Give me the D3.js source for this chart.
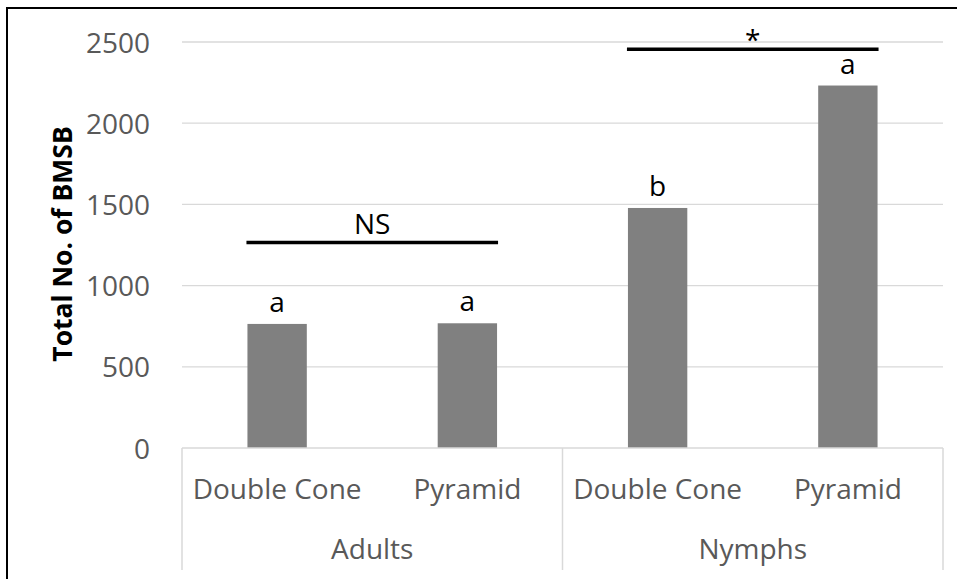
<!DOCTYPE html>
<html>
<head>
<meta charset="utf-8">
<script src="https://cdn.jsdelivr.net/npm/d3@7"></script>
<style>
  body { margin: 0; background: #fff; }
  svg { display: block; }
  text { font-family: "Open Sans", "Noto Sans", sans-serif; }
</style>
</head>
<body>
<svg id="chart" width="957" height="579"></svg>
<script>
// Total BMSB captured per life stage and trap type
const stages = ["Adults", "Nymphs"];
const traps = ["Double Cone", "Pyramid"];
const totals = [764, 768, 1478, 2232];          // Adults DC, Adults Pyr, Nymphs DC, Nymphs Pyr
const letters = ["a", "a", "b", "a"];          // mean separation letters
const yTicks = [0, 500, 1000, 1500, 2000, 2500];
const bracketLabels = ["NS", "*"];             // per-stage significance
const bracketLevels = [1265, 2455];            // bracket height in count units

const rows = [];
stages.forEach((s, i) => traps.forEach((t, j) => {
  const k = i * traps.length + j;
  rows.push({ key: s + "|" + t, stage: s, trap: t, value: totals[k], letter: letters[k] });
}));

const svg = d3.select("#chart");
const plotL = 182, plotR = 943, plotT = 42, plotB = 448;
const fs = 28;

const x = d3.scaleBand().domain(rows.map(d => d.key)).range([plotL, plotR])
  .paddingInner(0.688).paddingOuter(0.344);
const xStage = d3.scaleBand().domain(stages).range([plotL, plotR]);
const y = d3.scaleLinear().domain([0, 2500]).range([plotB, plotT]);

// outer frame
svg.append("rect").attr("x", 7).attr("y", 8).attr("width", 980).attr("height", 600)
  .attr("fill", "none").attr("stroke", "#000").attr("stroke-width", 2);

// horizontal gridlines
svg.append("g").selectAll("line").data(yTicks.filter(v => v > 0)).join("line")
  .attr("x1", plotL).attr("x2", plotR)
  .attr("y1", d => y(d)).attr("y2", d => y(d))
  .attr("stroke", "#d9d9d9").attr("stroke-width", 1.3);

// value axis labels
const yAxis = svg.append("g").attr("transform", `translate(${plotL},0)`)
  .call(d3.axisLeft(y).tickValues(yTicks).tickFormat(d3.format("d"))
    .tickSize(0).tickPadding(32));
yAxis.select(".domain").remove();
yAxis.selectAll("text").attr("font-family", "'Open Sans', sans-serif")
  .attr("font-size", fs).attr("fill", "#595959").attr("dy", "0.36em");

// bars
svg.append("g").selectAll("rect").data(rows).join("rect")
  .attr("x", d => x(d.key)).attr("width", x.bandwidth())
  .attr("y", d => y(d.value)).attr("height", d => y(0) - y(d.value))
  .attr("fill", "#808080");

// category axis: baseline and group separators
svg.append("line").attr("x1", plotL).attr("x2", plotR)
  .attr("y1", plotB).attr("y2", plotB).attr("stroke", "#d9d9d9").attr("stroke-width", 1.5);
const seps = stages.map(s => xStage(s)).concat([plotR]);
svg.append("g").selectAll("line").data(seps).join("line")
  .attr("x1", d => d).attr("x2", d => d).attr("y1", plotB).attr("y2", 570)
  .attr("stroke", "#d9d9d9").attr("stroke-width", 1.5);

// trap labels
svg.append("g").selectAll("text").data(rows).join("text")
  .attr("x", d => x(d.key) + x.bandwidth() / 2).attr("y", 499)
  .attr("text-anchor", "middle").attr("font-size", fs).attr("fill", "#595959")
  .text(d => d.trap);

// stage labels
svg.append("g").selectAll("text").data(stages).join("text")
  .attr("x", d => xStage(d) + xStage.bandwidth() / 2).attr("y", 559)
  .attr("text-anchor", "middle").attr("font-size", fs).attr("fill", "#595959")
  .text(d => d);

// letters above bars
svg.append("g").selectAll("text").data(rows).join("text")
  .attr("x", d => x(d.key) + x.bandwidth() / 2).attr("y", d => y(d.value) - 12)
  .attr("text-anchor", "middle").attr("font-size", fs).attr("fill", "#000")
  .text(d => d.letter);

// significance brackets spanning each stage's bars
stages.forEach((s, i) => {
  const ks = rows.filter(d => d.stage === s).map(d => d.key);
  const x1 = x(ks[0]) - 1, x2 = x(ks[ks.length - 1]) + x.bandwidth() + 1;
  const ly = y(bracketLevels[i]);
  svg.append("line").attr("x1", x1).attr("x2", x2).attr("y1", ly).attr("y2", ly)
    .attr("stroke", "#000").attr("stroke-width", 3.5);
  const lbl = bracketLabels[i];
  svg.append("text").attr("x", (x1 + x2) / 2)
    .attr("y", lbl === "*" ? ly + 1 : ly - 9)
    .attr("text-anchor", "middle").attr("font-size", fs).attr("fill", "#000")
    .text(lbl);
});

// value axis title
svg.append("text").attr("transform", `translate(72,244) rotate(-90)`)
  .attr("text-anchor", "middle").attr("font-size", 26.5).attr("font-weight", "bold")
  .attr("fill", "#000").text("Total No. of BMSB");
</script>
</body>
</html>
